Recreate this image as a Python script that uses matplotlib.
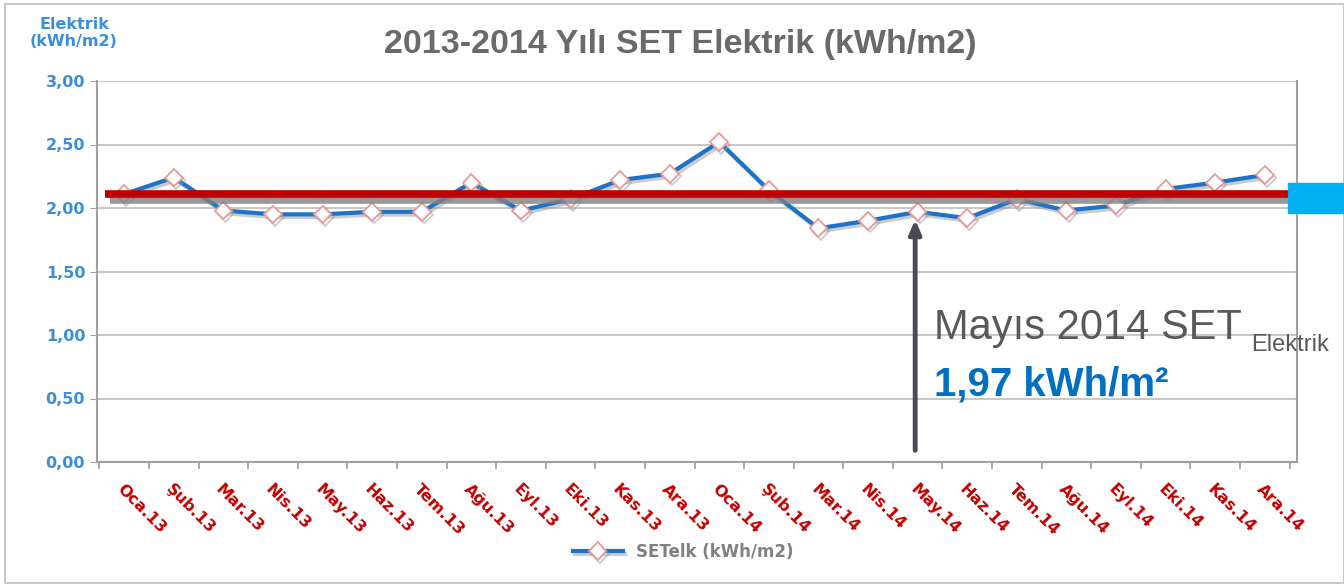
import matplotlib
matplotlib.use('Agg')
from matplotlib import pyplot as plt
from matplotlib import patheffects as pe
from matplotlib.patches import Rectangle
from matplotlib.ticker import FixedLocator, FuncFormatter

months = ['Oca', 'Şub', 'Mar', 'Nis', 'May', 'Haz',
          'Tem', 'Ağu', 'Eyl', 'Eki', 'Kas', 'Ara']
labels = [m + '.13' for m in months] + [m + '.14' for m in months]
set_elk = [2.11, 2.24, 1.98, 1.95, 1.95, 1.97, 1.97, 2.20, 1.98, 2.07, 2.22, 2.27,
           2.52, 2.14, 1.84, 1.90, 1.97, 1.92, 2.07, 1.98, 2.02, 2.15, 2.20, 2.26]
target = 2.11
may14_idx = 16

BLUE = '#1f73c6'
RED_TXT = '#c00000'
GRAY_TXT = '#595959'

fig = plt.figure(figsize=(13.44, 5.87), dpi=100)
fig.patches.append(Rectangle((0.004, 0.006), 0.996, 0.988, transform=fig.transFigure,
                             fill=False, edgecolor='#c8c8c8', linewidth=1.5))

ax = fig.add_axes([97 / 1344, 1 - 462 / 587, 1200 / 1344, 381 / 587])
x = list(range(len(set_elk)))

ax.plot(x, set_elk, color=BLUE, linewidth=3, marker='D', markersize=9,
        markerfacecolor='white', markeredgecolor='#e89a9a', markeredgewidth=1.3,
        label='SETelk (kWh/m2)', zorder=4,
        path_effects=[pe.SimpleLineShadow(offset=(1.5, -2), shadow_color='#999999', alpha=0.5),
                      pe.Normal()])

ax.set_xlim(-0.55, 23.65)
ax.set_ylim(0, 3)
ax.set_yticks([0, 0.5, 1.0, 1.5, 2.0, 2.5, 3.0])
ax.yaxis.set_major_formatter(FuncFormatter(lambda v, p: f'{v:.2f}'.replace('.', ',')))
ax.grid(axis='y', color='#c8c8c8', linewidth=1.5)
ax.set_axisbelow(True)
for s in ['left', 'bottom', 'right']:
    ax.spines[s].set_color('#a0a0a0')
    ax.spines[s].set_linewidth(1.5)
ax.spines['top'].set_visible(False)
ax.tick_params(axis='y', colors='#a0a0a0', labelcolor='#3a8fd8', labelsize=11.5, length=5)
for t in ax.get_yticklabels():
    t.set_fontweight('bold')

ax.set_xticks(x)
ax.set_xticklabels(labels, rotation=-45, ha='left', va='top', rotation_mode='anchor',
                   color=RED_TXT, fontsize=11.5, fontweight='bold')
ax.tick_params(axis='x', which='major', length=0, pad=14)
ax.xaxis.set_minor_locator(FixedLocator([i + 0.5 for i in range(-1, 24)]))
ax.tick_params(axis='x', which='minor', length=5, color='#a0a0a0', width=1.2)

# target line with shadow
ax.plot([-0.38, 23.8], [target, target], color='#c00000', linewidth=5.5, zorder=5,
        clip_on=False, solid_capstyle='butt',
        path_effects=[pe.SimpleLineShadow(offset=(3, -4), shadow_color='#808080', alpha=0.8),
                      pe.Normal()])
fig.patches.append(Rectangle((1288 / 1344, 1 - 213 / 587), 56 / 1344, 30 / 587,
                             transform=fig.transFigure, color='#00b0f0', zorder=6))

# arrow to May 2014
ax.annotate('', xy=(may14_idx - 0.05, set_elk[may14_idx] - 0.04), xytext=(may14_idx - 0.05, 0.07),
            arrowprops=dict(arrowstyle='-|>,head_length=0.8,head_width=0.35',
                            color='#4a4a52', linewidth=3.5), zorder=6)

fig.text(934 / 1344, 1 - 328 / 587, 'Mayıs 2014 SET', fontsize=30, color=GRAY_TXT,
         family='Liberation Sans', va='center', ha='left')
fig.text(1251 / 1344, 1 - 345 / 587, 'Elektrik', fontsize=17, color=GRAY_TXT,
         family='Liberation Sans', va='center', ha='left')
fig.text(934 / 1344, 1 - 385 / 587, '1,97 kWh/m²', fontsize=29, color='#0070c0',
         fontweight='bold', family='Liberation Sans', va='center', ha='left')

fig.text(680 / 1344, 1 - 44 / 587, '2013-2014 Yılı SET Elektrik (kWh/m2)', fontsize=24.5,
         fontweight='bold', color='#6a6a6a', ha='center', va='center', family='Liberation Sans')
fig.text(74 / 1344, 1 - 33 / 587, 'Elektrik\n(kWh/m2)', fontsize=11.5, fontweight='bold',
         color='#3a8fd8', ha='center', va='center', linespacing=1.2)

fig.legend(loc='center', bbox_to_anchor=(683 / 1344, 1 - 552 / 587), frameon=False,
           labelcolor='#808080', handlelength=3.0, prop={'weight': 'bold', 'size': 12})

plt.savefig('out.png', dpi=100)
